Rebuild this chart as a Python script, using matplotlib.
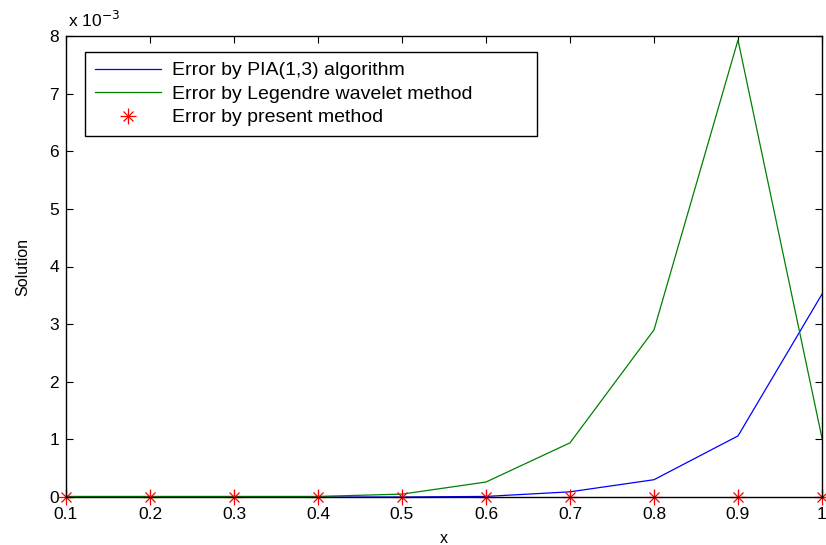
import matplotlib
matplotlib.use("Agg")
import matplotlib.pyplot as plt
from matplotlib.legend_handler import HandlerTuple

plt.rcParams['font.family'] = ['Liberation Sans', 'DejaVu Sans']

# errors, in units of 1e-3
x = [0.1, 0.2, 0.3, 0.4, 0.5, 0.6, 0.7, 0.8, 0.9, 1.0]
err_pia = [0.0, 0.0, 0.0, 0.0, 0.0, 0.01, 0.09, 0.30, 1.06, 3.52]
err_legendre = [0.01, 0.01, 0.01, 0.01, 0.05, 0.26, 0.94, 2.90, 7.93, 1.02]
err_present = [0.0, 0.0, 0.0, 0.0, 0.0, 0.0, 0.0, 0.0, 0.0, 0.0]

fig = plt.figure(figsize=(8.26, 5.45), dpi=100)
ax = fig.add_axes([66/826, 48/545, 756/826, 461/545])

l1, = ax.plot(x, err_pia, color='#0000FF', linewidth=0.9)
l2, = ax.plot(x, err_legendre, color='#008000', linewidth=0.9)
p1, = ax.plot(x, err_present, linestyle='none', marker='+', color='red', markersize=11, markeredgewidth=0.9, clip_on=False)
p2, = ax.plot(x, err_present, linestyle='none', marker='x', color='red', markersize=7, markeredgewidth=0.9, clip_on=False)

ax.set_xlim(0.1, 1.0)
ax.set_ylim(0, 8)
ax.set_xticks(x)
ax.set_xticklabels(['0.1', '0.2', '0.3', '0.4', '0.5', '0.6', '0.7', '0.8', '0.9', '1'])
ax.set_yticks(range(0, 9))
ax.tick_params(direction='in', top=True, right=True, labelsize=12.5, length=5, width=0.8)
ax.tick_params(axis='x', pad=7)
ax.tick_params(axis='y', pad=5)
for s in ax.spines.values():
    s.set_linewidth(1.0)

ax.set_xlabel('x', fontsize=11.5, labelpad=7)
ax.set_ylabel('Solution', fontsize=11.5, labelpad=14)
ax.text(0.003, 1.012, 'x 10$^{-3}$', transform=ax.transAxes, fontsize=12.5, ha='left', va='bottom')

leg = ax.legend([l1, l2, (p1, p2)],
                ['Error by PIA(1,3) algorithm', 'Error by Legendre wavelet method', 'Error by present method'],
                handler_map={tuple: HandlerTuple(ndivide=1)},
                loc='upper left', bbox_to_anchor=(0.025, 0.965, 0.598, 0.0), mode='expand',
                borderaxespad=0.0, fontsize=14, handlelength=3.4, handletextpad=0.6, borderpad=0.5,
                labelspacing=0.3, fancybox=False, framealpha=1, edgecolor='black')
leg.get_frame().set_linewidth(1.0)

fig.savefig('out.png', dpi=100)
